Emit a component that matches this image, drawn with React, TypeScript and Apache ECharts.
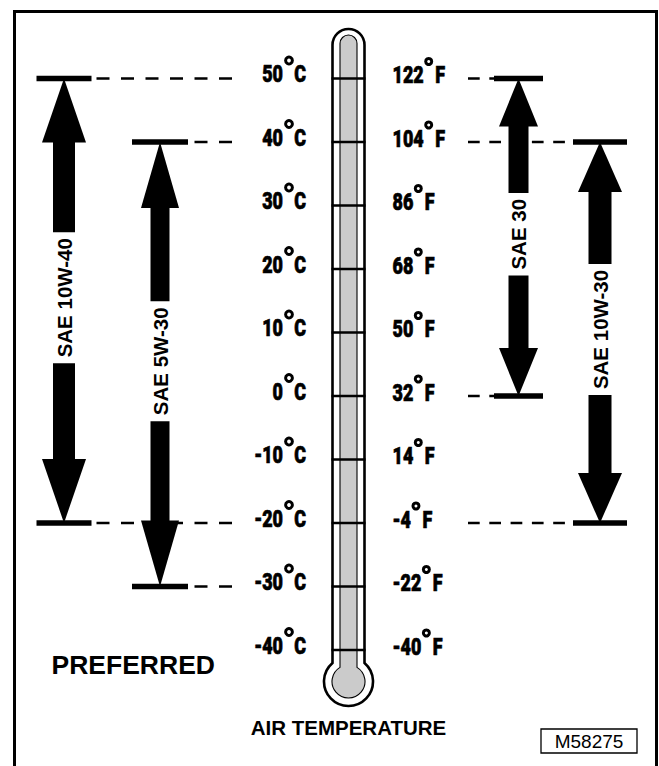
import React, { useEffect, useRef } from "react";
import * as echarts from "echarts";

// ---------- data ----------
const celsiusTicks = [50, 40, 30, 20, 10, 0, -10, -20, -30, -40];
const fahrenheitTicks = [122, 104, 86, 68, 50, 32, 14, -4, -22, -40];

const oilNames = ["SAE 10W-40", "SAE 5W-30", "SAE 30", "SAE 10W-30"];
const oilLowC = [-20, -30, 0, -20];
const oilHighC = [50, 40, 50, 40];
const oilScale = ["C", "C", "F", "F"];

const noteText = "PREFERRED";
const axisTitle = "AIR TEMPERATURE";
const figureId = "M58275";

// ---------- layout (pixels) ----------
const W = 659;
const H = 766;
const ARROWS = [
  { cx: 64, barW: 55, headW: 44, shaftW: 22, headLen: 64 },
  { cx: 160, barW: 56, headW: 38, shaftW: 19, headLen: 66 },
  { cx: 518.5, barW: 49, headW: 39, shaftW: 20, headLen: 48 },
  { cx: 600, barW: 54, headW: 44, shaftW: 23, headLen: 50 },
];
const C_DASH_END = 232;
const F_DASH_START = 468;
const C_NUM_RIGHT = 283;
const C_DEG_X = 289;
const C_UNIT_RIGHT = 306;
const F_NUM_LEFT = 392.5;
const TUBE_L = 331.5;
const TUBE_R = 365.5;

const NUM_FONT = '900 23px Roboto, "Liberation Sans", sans-serif';
const NUM_SCALE = 0.78;
const SAE_FONT = 'bold 20.5px "Liberation Sans", Arial, sans-serif';

const outerD =
  "M332.5,45 L332.5,662.95 A24.5,24.5 0 1 0 364.5,662.95 L364.5,45 A16,16 0 0 0 332.5,45 Z";
const innerD =
  "M340,43.5 L340,667.36 A16.5,16.5 0 1 0 357,667.36 L357,43.5 A8.5,8.5 0 0 0 340,43.5 Z";

echarts.graphic.registerShape("thermoOuter", echarts.graphic.extendPath(outerD, {}));
echarts.graphic.registerShape("thermoInner", echarts.graphic.extendPath(innerD, {}));

let measureCtx: CanvasRenderingContext2D | null = null;
function textWidth(text: string, font: string): number {
  if (!measureCtx) measureCtx = document.createElement("canvas").getContext("2d");
  if (!measureCtx) return text.length * 10;
  measureCtx.font = font;
  return measureCtx.measureText(text).width;
}

function txt(
  text: string,
  x: number,
  y: number,
  font: string,
  align: string,
  vAlign: string,
  extra: any = {},
  styleExtra: any = {}
) {
  return {
    type: "text",
    x,
    y,
    ...extra,
    style: {
      text,
      font,
      fill: "#000",
      align,
      verticalAlign: vAlign,
      textAlign: align,
      textVerticalAlign: vAlign,
      ...styleExtra,
    },
  };
}

const heavy = { stroke: "#000", lineWidth: 0.7 };

export default function App() {
  const ref = useRef<HTMLDivElement>(null);

  useEffect(() => {
    if (!ref.current) return;
    const chart = echarts.init(ref.current, undefined, { renderer: "svg" });

    const dashData = oilNames.flatMap((_, i) => [
      [i, oilHighC[i]],
      [i, oilLowC[i]],
    ]);
    const arrowData = oilNames.map((_, i) => [i, oilLowC[i], oilHighC[i]]);
    const cData = celsiusTicks.map((c) => [0, c]);
    const fData = celsiusTicks.map((c, i) => [fahrenheitTicks[i], c]);

    const option: any = {
      animation: false,
      grid: { left: 0, right: 0, top: 78.5, height: 571.5 },
      xAxis: { type: "value", min: 0, max: W, show: false },
      yAxis: { type: "value", min: -40, max: 50, show: false },
      graphic: [
        {
          type: "polyline",
          z: 1,
          shape: { points: [[14.5, H + 20], [14.5, 11.5], [656.5, 11.5], [656.5, H + 20]] },
          style: { fill: "none", stroke: "#000", lineWidth: 3 },
        },
        {
          type: "thermoOuter",
          z: 1,
          x: 0,
          y: 0,
          style: { fill: "#fff", stroke: "#000", lineWidth: 2.6 },
        },
        {
          type: "thermoInner",
          z: 2,
          x: 0,
          y: 0,
          style: { fill: "#cbcbcb", stroke: "#000", lineWidth: 1.1 },
        },
        { ...txt(noteText, 51.5, 665, 'bold 26.5px "Liberation Sans", Arial, sans-serif', "left", "middle"), z: 2 },
        { ...txt(axisTitle, 348.5, 727, 'bold 20.5px "Liberation Sans", Arial, sans-serif', "center", "middle"), z: 2 },
        {
          type: "rect",
          z: 2,
          shape: { x: 541, y: 729, width: 96, height: 24 },
          style: { fill: "#fff", stroke: "#000", lineWidth: 1.3 },
        },
        { ...txt(figureId, 589, 741.5, '19px "Liberation Sans", Arial, sans-serif', "center", "middle"), z: 3 },
      ],
      series: [
        {
          type: "custom",
          coordinateSystem: "cartesian2d",
          z: 10,
          silent: true,
          data: dashData,
          renderItem: (params: any, api: any) => {
            const i = api.value(0);
            const y = api.coord([0, api.value(1)])[1];
            const L = ARROWS[i];
            const isC = oilScale[i] === "C";
            const x1 = isC ? C_DASH_END : F_DASH_START;
            const x2 = isC ? L.cx + L.barW / 2 : L.cx - L.barW / 2;
            return {
              type: "line",
              shape: { x1, y1: y, x2, y2: y },
              style: { stroke: "#000", lineWidth: 2.5, lineDash: isC ? [13, 11.5] : [11.7, 9.6] },
            };
          },
        },
        {
          type: "custom",
          coordinateSystem: "cartesian2d",
          z: 11,
          silent: true,
          data: cData,
          renderItem: (params: any, api: any) => {
            const c = api.value(1);
            const y = api.coord([0, c])[1];
            return {
              type: "group",
              children: [
                {
                  type: "line",
                  shape: { x1: TUBE_L, y1: y, x2: TUBE_R, y2: y },
                  style: { stroke: "#000", lineWidth: 2.5 },
                },
                txt(String(c), C_NUM_RIGHT, y - 4, NUM_FONT, "right", "middle", { scaleX: NUM_SCALE }, heavy),
                {
                  type: "circle",
                  shape: { cx: C_DEG_X, cy: y - 18, r: 3.4 },
                  style: { fill: "#fff", stroke: "#000", lineWidth: 3 },
                },
                txt("C", C_UNIT_RIGHT, y - 4, NUM_FONT, "right", "middle", { scaleX: NUM_SCALE }, heavy),
              ],
            };
          },
        },
        {
          type: "custom",
          coordinateSystem: "cartesian2d",
          z: 11,
          silent: true,
          data: fData,
          renderItem: (params: any, api: any) => {
            const f = api.value(0);
            const y = api.coord([0, api.value(1)])[1];
            const s = String(f);
            const w = textWidth(s, NUM_FONT) * NUM_SCALE;
            return {
              type: "group",
              children: [
                txt(s, F_NUM_LEFT, y - 3, NUM_FONT, "left", "middle", { scaleX: NUM_SCALE }, heavy),
                {
                  type: "circle",
                  shape: { cx: F_NUM_LEFT + w + 5, cy: y - 17, r: 3 },
                  style: { fill: "#fff", stroke: "#000", lineWidth: 3 },
                },
                txt("F", F_NUM_LEFT + w + 11.5, y - 3, NUM_FONT, "left", "middle", { scaleX: NUM_SCALE }, heavy),
              ],
            };
          },
        },
        {
          type: "custom",
          coordinateSystem: "cartesian2d",
          z: 12,
          silent: true,
          data: arrowData,
          renderItem: (params: any, api: any) => {
            const i = api.value(0);
            const yBot = api.coord([0, api.value(1)])[1];
            const yTop = api.coord([0, api.value(2)])[1];
            const L = ARROWS[i];
            const cx = L.cx;
            const name = oilNames[i];
            const tw = textWidth(name, SAE_FONT);
            const tc = (yTop + yBot) / 2 - 3;
            const gap = 6;
            const upperEnd = tc - tw / 2 - gap;
            const lowerStart = tc + tw / 2 + gap;
            const topBase = yTop + L.headLen;
            const botBase = yBot - L.headLen;
            const fill = { fill: "#000" };
            return {
              type: "group",
              children: [
                {
                  type: "rect",
                  shape: { x: cx - L.barW / 2, y: yTop - 2.75, width: L.barW, height: 5.5 },
                  style: fill,
                },
                {
                  type: "rect",
                  shape: { x: cx - L.barW / 2, y: yBot - 2.75, width: L.barW, height: 5.5 },
                  style: fill,
                },
                {
                  type: "polygon",
                  shape: { points: [[cx, yTop], [cx - L.headW / 2, topBase], [cx + L.headW / 2, topBase]] },
                  style: fill,
                },
                {
                  type: "polygon",
                  shape: { points: [[cx, yBot], [cx - L.headW / 2, botBase], [cx + L.headW / 2, botBase]] },
                  style: fill,
                },
                {
                  type: "rect",
                  shape: { x: cx - L.shaftW / 2, y: topBase - 0.5, width: L.shaftW, height: upperEnd - topBase + 0.5 },
                  style: fill,
                },
                {
                  type: "rect",
                  shape: { x: cx - L.shaftW / 2, y: lowerStart, width: L.shaftW, height: botBase - lowerStart + 0.5 },
                  style: fill,
                },
                txt(name, cx, tc, SAE_FONT, "center", "middle", { rotation: Math.PI / 2 }),
              ],
            };
          },
        },
      ],
    };

    chart.setOption(option);
    return () => chart.dispose();
  }, []);

  return (
    <div
      ref={ref}
      style={{ position: "absolute", left: 0, top: 0, width: W, height: H, background: "#fff" }}
    />
  );
}
